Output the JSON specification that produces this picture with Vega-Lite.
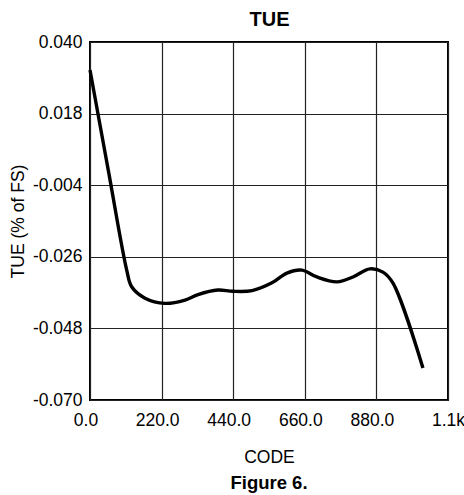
{
  "$schema": "https://vega.github.io/schema/vega-lite/v6.json",
  "width": 358,
  "height": 358,
  "autosize": {"type": "none"},
  "padding": {"left": 90, "top": 42, "right": 16, "bottom": 95},
  "background": "white",
  "config": {
    "font": "Liberation Sans",
    "view": {"stroke": "black", "strokeWidth": 2},
    "axis": {"grid": true, "gridColor": "#222222", "gridWidth": 1.2, "gridOpacity": 1, "domain": false, "ticks": false, "tickSize": 0,
             "labelFont": "Liberation Sans", "labelFontSize": 17.5, "labelColor": "black",
             "titleFont": "Liberation Sans", "titleFontSize": 17.5, "titleFontWeight": "normal", "titleColor": "black"}
  },
  "title": {"text": "Figure 6.", "orient": "bottom", "fontSize": 18.5, "fontWeight": "bold", "font": "Liberation Sans", "color": "black", "offset": 8, "anchor": "middle"},
  "data": {"values": [
    {"code": 0, "tue": 0.0314},
    {"code": 56, "tue": 0.0007},
    {"code": 112.8, "tue": -0.0301},
    {"code": 128, "tue": -0.0352},
    {"code": 169, "tue": -0.0387},
    {"code": 230, "tue": -0.0403},
    {"code": 292, "tue": -0.0393},
    {"code": 332, "tue": -0.0376},
    {"code": 393, "tue": -0.0362},
    {"code": 439, "tue": -0.0366},
    {"code": 498, "tue": -0.0364},
    {"code": 559, "tue": -0.0340},
    {"code": 605, "tue": -0.0310},
    {"code": 651, "tue": -0.0301},
    {"code": 697, "tue": -0.0322},
    {"code": 759, "tue": -0.0337},
    {"code": 808, "tue": -0.0322},
    {"code": 860, "tue": -0.0297},
    {"code": 900, "tue": -0.0307},
    {"code": 931, "tue": -0.0341},
    {"code": 1023, "tue": -0.0602}
  ]},
  "layer": [
    {
      "mark": {"type": "line", "color": "black", "strokeWidth": 3.4, "interpolate": "catmull-rom"},
      "encoding": {
        "x": {"field": "code", "type": "quantitative",
              "scale": {"domain": [0, 1100], "nice": false, "zero": false},
              "axis": {"values": [0, 220, 440, 660, 880, 1100], "labelFlush": false, "labelPadding": 11,
                       "labelExpr": "datum.value >= 1100 ? '1.1k' : format(datum.value, '.1f')",
                       "labelOffset": {"condition": {"test": "datum.value >= 1100", "value": 0}, "value": -4.5},
                       "title": "CODE", "titlePadding": 20}},
        "y": {"field": "tue", "type": "quantitative",
              "scale": {"domain": [-0.07, 0.04], "nice": false, "zero": false},
              "axis": {"values": [-0.07, -0.048, -0.026, -0.004, 0.018, 0.04],
                       "labelExpr": "replace(format(datum.value, '.3f'), '\u2212', '-')", "labelPadding": 8,
                       "title": "TUE (% of FS)", "titlePadding": 5}}
      }
    },
    {
      "mark": {"type": "line", "opacity": 0},
      "encoding": {
        "x": {"field": "code", "type": "quantitative",
              "axis": {"orient": "top", "grid": false, "labels": false, "title": "TUE", "titleFontSize": 20, "titleFontWeight": "bold", "titlePadding": 13}},
        "y": {"field": "tue", "type": "quantitative"}
      }
    }
  ],
  "resolve": {"axis": {"x": "independent"}}
}
